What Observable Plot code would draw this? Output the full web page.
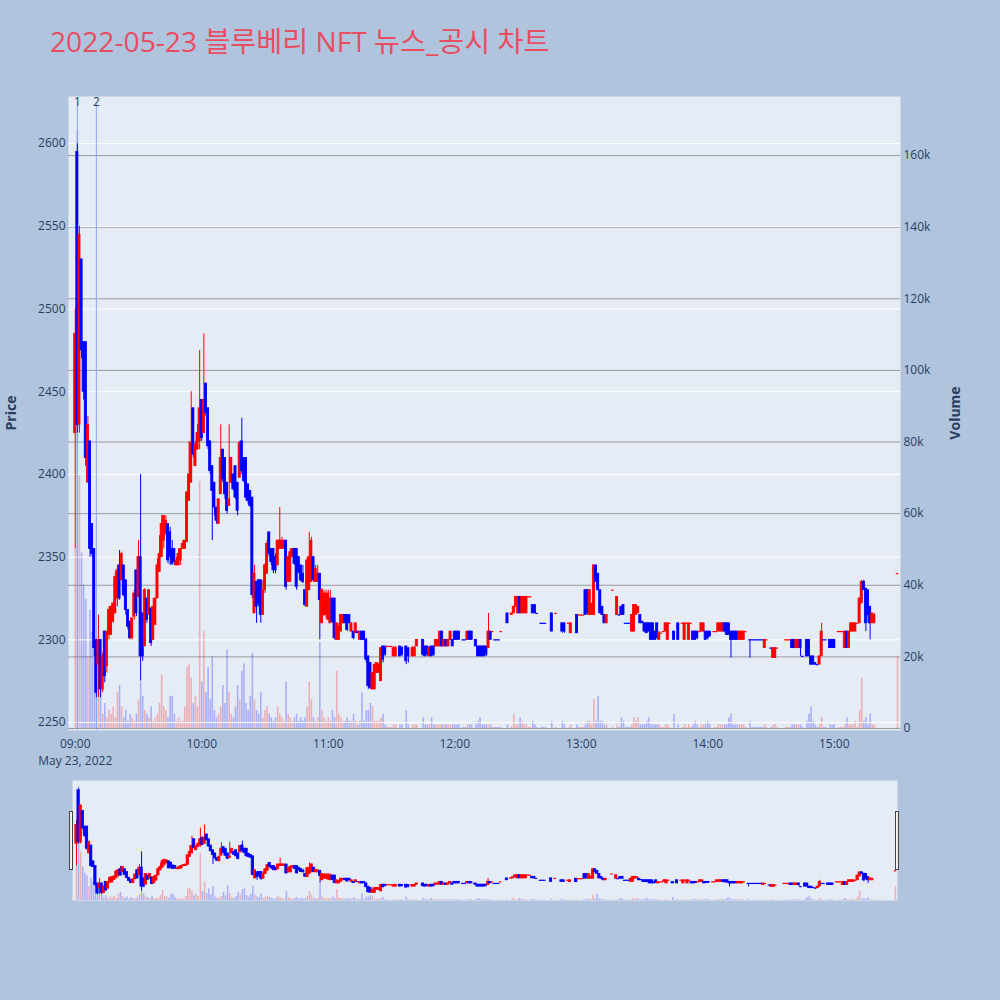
<!DOCTYPE html>
<html><head><meta charset="utf-8">
<script src="https://cdn.jsdelivr.net/npm/d3@7"></script>
<script src="https://cdn.jsdelivr.net/npm/@observablehq/plot@0.6"></script>
<style>
html,body{margin:0;padding:0;background:#b0c4de;}
#wrap{position:relative;width:1000px;height:1000px;overflow:hidden;font-family:"Open Sans","Noto Sans CJK KR",sans-serif;}
.layer{position:absolute;left:0;}
#title{position:absolute;left:50px;top:27px;font-size:28.2px;color:#e84d62;white-space:nowrap;line-height:1;font-family:"Open Sans","Noto Sans CJK KR",sans-serif;}
.ytitle{position:absolute;font-weight:bold;font-size:14px;color:#2a3f5f;transform:translate(-50%,-50%) rotate(-90deg);white-space:nowrap;}
.handle{position:absolute;width:2px;height:57px;background:#f2f2f2;border:1px solid #444;}
</style></head>
<body><div id="wrap">
<div id="title">2022-05-23 블루베리 NFT 뉴스_공시 차트</div>
<div class="ytitle" style="left:10px;top:413px;">Price</div>
<div class="ytitle" style="left:954px;top:413px;">Volume</div>
<div id="mainVol" class="layer" style="top:0"></div>
<div id="mainPrice" class="layer" style="top:0"></div>
<div id="sliderVol" class="layer" style="top:780px"></div>
<div id="sliderPrice" class="layer" style="top:780px"></div>
<div class="handle" style="left:69px;top:811px;"></div>
<div class="handle" style="left:895px;top:811px;"></div>
</div>
<script>
// minutes after 09:00
const minutes = [
0,1,2,3,4,5,6,7,8,9,
10,11,12,13,14,15,16,17,18,19,
20,21,22,23,24,25,26,27,28,29,
30,31,32,33,34,35,36,37,38,39,
40,41,42,43,44,45,46,47,48,49,
50,51,52,53,54,55,56,57,58,59,
60,61,62,63,64,65,66,67,68,69,
70,71,72,73,74,75,76,77,78,79,
80,81,82,83,84,85,86,87,88,89,
90,91,92,93,94,95,96,97,98,99,
100,101,102,103,104,105,106,107,108,109,
110,111,112,113,114,115,116,117,118,119,
120,121,122,123,124,125,126,127,128,129,
130,131,132,133,134,135,136,137,138,139,
140,141,142,143,144,145,146,147,
148,149,150,151,152,154,155,157,158,160,
161,162,165,166,167,168,169,170,171,172,
173,174,175,176,177,178,179,180,181,182,
184,185,186,187,188,190,191,192,193,194,
195,196,197,198,199,200,201,202,205,207,
208,209,210,211,212,213,214,215,216,217,
218,219,221,222,223,226,228,231,232,234,
235,238,239,240,241,242,243,244,245,246,
247,248,249,250,251,252,255,257,258,259,
260,261,262,263,264,265,266,267,268,269,
270,271,272,273,274,275,276,277,278,279,
280,281,282,284,286,288,289,290,291,292,
293,294,295,296,297,298,299,300,301,303,
304,305,306,307,308,309,310,311,312,313,
314,315,316,317,318,320,321,322,323,324,
325,326,327,328,330,331,332,333,337,338,
339,340,341,342,343,344,345,347,348,349,
350,351,352,353,354,355,356,358,359,360,
362,363,364,365,366,367,368,369,370,371,
372,373,374,375,376,377,378,379,390];
const opens = [
2425,2595,2430,2530,2480,2480,2395,2420,2370,2355,
2300,2285,2300,2270,2305,2284,2303,2303,2311,2316,
2325,2345,2336,2345,2336,2318,2311,2301,2314,2342,
2326,2350,2316,2296,2325,2315,2319,2300,2309,2325,
2341,2350,2360,2364,2370,2365,2355,2355,2345,2345,
2348,2355,2355,2359,2384,2395,2440,2405,2415,2420,
2445,2425,2455,2440,2420,2405,2395,2380,2370,2388,
2415,2410,2395,2381,2395,2400,2405,2395,2398,2420,
2410,2410,2394,2390,2386,2316,2335,2336,2336,2315,
2330,2340,2365,2355,2355,2350,2345,2355,2355,2355,
2360,2335,2335,2350,2355,2355,2350,2345,2340,2330,
2320,2330,2335,2350,2335,2335,2340,2310,2315,2315,
2312,2310,2325,2325,2300,2300,2305,2310,2315,2315,
2315,2305,2305,2304,2305,2300,2305,2305,2300,2290,
2286,2270,2270,2280,2280,2275,2296,2296,
2296,2296,2296,2290,2290,2296,2295,2296,2295,2290,
2290,2296,2300,2296,2296,2290,2296,2296,2296,2296,
2296,2305,2296,2300,2296,2300,2300,2305,2305,2305,
2300,2300,2300,2305,2305,2300,2296,2296,2296,2296,
2296,2295,2305,2305,2300,2300,2300,2305,2316,2315,
2316,2320,2316,2326,2316,2316,2316,2326,2326,2321,
2321,2316,2310,2310,2310,2316,2316,2310,2310,2310,
2304,2315,2315,2315,2315,2330,2330,2315,2315,2315,
2345,2340,2330,2320,2315,2310,2330,2315,2315,2320,
2321,2310,2310,2310,2305,2305,2315,2316,2315,2311,
2310,2310,2310,2310,2310,2305,2310,2300,2304,2305,
2305,2300,2310,2305,2310,2310,2300,2310,2300,2310,
2305,2305,2305,2305,2305,2305,2305,2305,2305,2305,
2305,2305,2305,2305,2310,2310,2310,2305,2305,2305,
2305,2300,2300,2300,2305,2300,2300,2300,2300,2300,
2300,2300,2295,2300,2295,2289,2289,2295,2300,2300,
2300,2300,2300,2295,2295,2300,2290,2300,2300,2290,
2290,2286,2285,2285,2290,2300,2300,2300,2300,2300,
2305,2305,2305,2295,2305,2295,2305,2305,2305,2310,
2310,2322,2335,2331,2330,2320,2310,2310,2340];
const highs = [
2500,2600,2550,2530,2480,2480,2435,2420,2370,2355,
2300,2315,2300,2292,2305,2305,2320,2320,2322,2341,
2345,2354,2353,2345,2336,2318,2311,2313,2330,2342,
2360,2400,2316,2331,2325,2330,2319,2325,2325,2349,
2363,2375,2375,2375,2370,2368,2360,2355,2350,2355,
2355,2360,2360,2390,2420,2450,2440,2420,2430,2475,
2445,2485,2455,2440,2420,2405,2395,2380,2385,2430,
2415,2410,2395,2430,2410,2400,2405,2395,2420,2434,
2410,2410,2394,2390,2386,2345,2335,2336,2336,2336,
2346,2360,2365,2355,2355,2352,2360,2380,2362,2360,
2360,2350,2355,2355,2355,2355,2350,2345,2345,2330,
2350,2365,2362,2350,2345,2345,2340,2331,2330,2330,
2330,2330,2325,2325,2310,2310,2315,2315,2315,2315,
2315,2310,2305,2310,2305,2305,2305,2305,2301,2290,
2286,2280,2285,2286,2286,2295,2296,2296,
2296,2296,2296,2296,2296,2296,2296,2296,2295,2296,
2296,2300,2300,2296,2296,2296,2296,2296,2300,2300,
2305,2305,2300,2300,2300,2305,2300,2305,2305,2305,
2300,2300,2305,2305,2305,2300,2296,2296,2296,2296,
2296,2316,2305,2305,2300,2300,2300,2305,2316,2316,
2320,2326,2326,2326,2326,2326,2326,2326,2326,2321,
2321,2316,2310,2310,2310,2316,2316,2310,2310,2310,
2310,2315,2315,2315,2315,2330,2330,2330,2322,2345,
2345,2340,2330,2320,2315,2315,2330,2326,2315,2320,
2321,2310,2310,2310,2315,2321,2321,2320,2315,2311,
2310,2310,2310,2310,2310,2305,2310,2305,2304,2305,
2310,2310,2310,2305,2310,2310,2310,2310,2310,2310,
2305,2305,2305,2305,2310,2310,2305,2305,2305,2305,
2305,2310,2310,2310,2310,2310,2310,2305,2305,2305,
2305,2305,2305,2305,2305,2300,2300,2300,2300,2300,
2300,2300,2300,2300,2295,2295,2295,2295,2300,2300,
2300,2300,2300,2300,2300,2300,2290,2300,2300,2290,
2290,2286,2285,2290,2310,2300,2300,2300,2300,2300,
2305,2305,2305,2305,2305,2305,2310,2310,2310,2310,
2325,2336,2336,2331,2330,2320,2316,2316,2340];
const lows = [
2355,2425,2425,2470,2445,2405,2395,2350,2350,2290,
2265,2265,2265,2268,2274,2280,2300,2303,2310,2316,
2320,2324,2336,2326,2315,2306,2300,2300,2312,2314,
2326,2275,2287,2296,2310,2315,2296,2300,2309,2325,
2341,2350,2355,2363,2346,2345,2345,2345,2345,2345,
2345,2355,2355,2359,2384,2395,2410,2405,2415,2415,
2420,2425,2435,2415,2400,2360,2375,2370,2370,2388,
2395,2385,2376,2381,2395,2390,2385,2375,2398,2400,
2395,2384,2382,2380,2325,2316,2310,2320,2310,2315,
2328,2340,2350,2345,2340,2340,2345,2355,2355,2355,
2330,2335,2335,2350,2345,2330,2340,2335,2334,2320,
2320,2330,2335,2335,2335,2335,2300,2310,2314,2313,
2312,2310,2310,2300,2300,2300,2305,2310,2310,2305,
2310,2305,2300,2304,2304,2300,2300,2300,2286,2270,
2270,2270,2270,2280,2280,2275,2286,2290,
2296,2296,2296,2290,2290,2290,2290,2285,2286,2290,
2290,2296,2290,2290,2290,2290,2290,2290,2296,2296,
2296,2296,2296,2296,2296,2300,2296,2300,2300,2300,
2300,2300,2300,2300,2300,2296,2290,2290,2290,2290,
2290,2295,2300,2305,2300,2300,2300,2305,2310,2315,
2316,2320,2316,2316,2316,2316,2316,2326,2326,2316,
2316,2316,2310,2310,2310,2305,2316,2304,2304,2310,
2304,2304,2315,2315,2315,2315,2315,2315,2315,2315,
2335,2330,2316,2315,2310,2310,2330,2315,2315,2315,
2315,2310,2310,2310,2305,2305,2315,2316,2310,2310,
2305,2304,2305,2300,2300,2300,2300,2300,2304,2305,
2305,2300,2310,2300,2300,2310,2300,2310,2300,2310,
2300,2300,2300,2305,2305,2305,2300,2300,2302,2305,
2305,2305,2305,2305,2305,2303,2303,2289,2300,2300,
2300,2300,2300,2300,2305,2289,2300,2300,2300,2300,
2300,2300,2295,2300,2295,2289,2289,2295,2300,2300,
2300,2295,2295,2295,2295,2290,2290,2290,2290,2285,
2285,2285,2285,2285,2290,2300,2300,2295,2295,2295,
2305,2305,2305,2295,2295,2295,2305,2305,2305,2310,
2310,2322,2330,2305,2310,2300,2310,2310,2340];
const closes = [
2485,2430,2545,2475,2450,2410,2430,2355,2352,2295,
2268,2300,2270,2290,2278,2305,2318,2320,2322,2338,
2342,2325,2352,2327,2318,2308,2301,2313,2328,2316,
2350,2290,2290,2330,2312,2330,2298,2320,2325,2345,
2352,2370,2375,2372,2348,2350,2346,2347,2348,2352,
2355,2358,2360,2389,2400,2419,2412,2418,2425,2440,
2422,2445,2437,2417,2402,2390,2380,2372,2385,2410,
2397,2388,2378,2385,2410,2391,2386,2378,2419,2402,
2396,2386,2384,2381,2327,2340,2320,2322,2315,2330,
2345,2358,2352,2347,2342,2342,2360,2360,2360,2360,
2332,2350,2353,2355,2346,2332,2341,2336,2335,2321,
2348,2350,2360,2336,2343,2340,2324,2330,2328,2328,
2328,2325,2311,2301,2310,2308,2315,2315,2310,2306,
2310,2310,2301,2310,2304,2305,2300,2300,2288,2272,
2271,2280,2285,2286,2285,2295,2288,2291,
2296,2296,2296,2295,2295,2290,2291,2287,2290,2295,
2295,2300,2291,2290,2291,2295,2290,2291,2300,2300,
2305,2296,2300,2296,2300,2305,2296,2300,2300,2300,
2300,2300,2305,2300,2300,2296,2290,2290,2290,2290,
2291,2305,2300,2305,2300,2300,2300,2305,2310,2316,
2320,2326,2326,2316,2326,2326,2326,2326,2326,2316,
2316,2316,2310,2310,2310,2305,2316,2305,2305,2310,
2310,2304,2315,2315,2315,2315,2316,2330,2322,2345,
2335,2330,2316,2315,2310,2315,2330,2326,2315,2315,
2315,2310,2310,2310,2315,2321,2321,2320,2310,2310,
2305,2304,2305,2300,2300,2300,2301,2304,2304,2305,
2310,2310,2310,2300,2300,2310,2310,2310,2310,2310,
2300,2300,2301,2305,2310,2310,2300,2301,2302,2305,
2305,2310,2310,2310,2305,2303,2303,2300,2300,2300,
2300,2305,2305,2305,2305,2300,2300,2300,2300,2300,
2300,2300,2300,2300,2295,2295,2295,2295,2300,2300,
2300,2295,2295,2300,2300,2295,2290,2290,2290,2285,
2285,2285,2285,2290,2305,2300,2300,2295,2295,2295,
2305,2305,2305,2305,2295,2305,2310,2310,2310,2310,
2325,2335,2330,2310,2315,2310,2316,2315,2340];
// volume in thousands of shares
const volumes = [
50,167,71,49,40,36,20,33,27,23,
18,10,12,4,7,3,5,4,6,3,
10,12,6,3,5,2,4,3,2,4,
8,13,9,5,4,3,6,2,3,4,
7,15,6,5,3,9,9,4,2,3,
2,2,6,17,18,14,7,9,6,69,
13,27,10,17,8,20,5,3,4,6,
12,7,22,10,4,3,6,12,8,16,
18,7,5,9,21,8,5,4,10,3,
5,6,4,3,2,3,6,4,3,2,
13,4,3,2,3,4,2,3,2,3,
6,13,8,3,2,3,24,5,3,2,
3,2,5,3,16,4,3,2,2,3,
2,2,4,2,1,2,10,2,5,5,
7,6,2,2,2,3,4,1,
0.5,0.3,0.3,1,1,1,1,5,1,1,
1,1,3,1,1,1,3,1,1,1,
1,1,1,1,1,1,1,1,1,1,
0.3,0.3,1,1,1,1,2,3,1,1,
1,1,1,0.3,0.3,0.3,0.3,0.3,1,0.5,
4,1,1,3,2,1,1,0.3,0.3,2,
1,0.3,0.3,0.3,0.3,2,0.3,2,1,0.3,
1,1,0.3,0.3,0.3,1,2,2,1,8,
2,9,2,2,1,1,0.3,1,0.3,3,
2,0.3,0.3,0.3,1,3,2,3,1,1,
1,2,3,1,1,1,1,1,0.3,0.3,
1,1,0.3,4,1,0.3,1,0.3,1,0.3,
1,2,1,0.3,1,1,1,2,1,0.3,
0.3,1,1,1,1,1,3,4,1,1,
1,1,1,1,0.3,2,0.3,0.3,0.3,0.3,
0.3,0.3,1,0.3,0.3,1,1,0.3,0.3,0.3,
0.3,1,1,1,1,1,0.3,2,4,6,
2,1,0.3,1,3,0.3,0.3,1,1,1,
0.3,0.3,0.3,1,3,1,1,1,2,0.3,
5,14,2,3,1,4,1,1,20];

const hourTicks = [0, 60, 120, 180, 240, 300, 360];
const hourLabels = ["09:00", "10:00", "11:00", "12:00", "13:00", "14:00", "15:00"];
const dateLabel = "May 23, 2022";
const priceTicks = [2250, 2300, 2350, 2400, 2450, 2500, 2550, 2600];
const volumeTicks = [0, 20, 40, 60, 80, 100, 120, 140, 160];
const newsMinutes = [1, 10];
const newsLabels = ["1", "2"];

// build table
const candles = minutes.map((m, i) => ({m, o: opens[i], h: highs[i], l: lows[i], c: closes[i], v: volumes[i]}));
let prevC = null, prevUp = true;
for (const d of candles) {
  let up;
  if (d.c > d.o) up = true;
  else if (d.c < d.o) up = false;
  else if (prevC === null) up = true;
  else if (d.c > prevC) up = true;
  else if (d.c < prevC) up = false;
  else up = prevUp;
  d.up = up; prevC = d.c; prevUp = up;
}
const bodies = candles.filter(d => d.o !== d.c);
const dojis = candles.filter(d => d.o === d.c);
const UP = "#ff0000", DOWN = "#0000ff";
const col = d => d.up ? UP : DOWN;
const vcol = d => d.up ? "rgba(255,0,0,0.26)" : "rgba(0,0,255,0.26)";

const FONT = '"Open Sans", "Noto Sans CJK KR", sans-serif';
const baseStyle = {background: "transparent", fontFamily: FONT, fontSize: "12px", color: "#2a3f5f", overflow: "visible"};
const xDomain = [-3.2, 391.4];
const W = 1000, H = 780, ML = 68, MR = 100, MT = 96, MB = 50;

const mainVol = Plot.plot({
  width: W, height: H, marginLeft: ML, marginRight: MR, marginTop: MT, marginBottom: MB,
  style: baseStyle,
  x: {domain: xDomain, axis: null},
  y: {domain: [-0.56, 176.5]},
  marks: [
    Plot.frame({fill: "#e5ecf6", stroke: null}),
    Plot.gridY({ticks: volumeTicks, stroke: "#9a9a9a", strokeOpacity: 1, strokeWidth: 1}),
    Plot.ruleX(candles, {x: "m", y1: 0, y2: "v", stroke: vcol, strokeWidth: 1.6}),
    Plot.axisY({anchor: "right", ticks: volumeTicks, tickFormat: d => d === 0 ? "0" : d + "k", tickSize: 0, tickPadding: 3, label: null})
  ]
});
document.getElementById("mainVol").append(mainVol);

const mainPrice = Plot.plot({
  width: W, height: H, marginLeft: ML, marginRight: MR, marginTop: MT, marginBottom: MB,
  style: baseStyle,
  x: {domain: xDomain},
  y: {domain: [2245.2, 2628.5]},
  marks: [
    Plot.gridY({ticks: priceTicks, stroke: "#ffffff", strokeOpacity: 1, strokeWidth: 1}),
    Plot.ruleX(newsMinutes, {x: d => d, y1: 2245.2, y2: 2624.5, stroke: "#86a6ea", strokeWidth: 1}),
    Plot.text(newsMinutes, {x: d => d, text: (d, i) => newsLabels[i], frameAnchor: "top", dy: 1, fill: "#2a3f5f", fontSize: 12}),
    Plot.ruleX(candles, {x: "m", y1: "l", y2: "h", stroke: col, strokeWidth: 1}),
    Plot.rect(bodies, {x1: d => d.m - 0.5, x2: d => d.m + 0.5, y1: "o", y2: "c", fill: col, stroke: col, strokeWidth: 0.8}),
    Plot.ruleY(dojis, {y: "c", x1: d => d.m - 0.6, x2: d => d.m + 0.6, stroke: col, strokeWidth: 1.2}),
    Plot.axisY({ticks: priceTicks, tickFormat: d => String(d), tickSize: 0, tickPadding: 3, label: null}),
    Plot.axisX({ticks: hourTicks, tickFormat: (d, i) => i === 0 ? hourLabels[i] + "\n" + dateLabel : hourLabels[i], tickSize: 0, tickPadding: 6, label: null, lineHeight: 1.4})
  ]
});
document.getElementById("mainPrice").append(mainPrice);

const sx = [-1.9, 391];
const sliderVol = Plot.plot({
  width: W, height: 120, marginLeft: 72, marginRight: 103, marginTop: 0, marginBottom: 0,
  style: baseStyle,
  x: {domain: sx, axis: null},
  y: {domain: [0, 176], axis: null},
  marks: [
    Plot.frame({fill: "#e5ecf6", stroke: null}),
    Plot.ruleX(candles, {x: "m", y1: 0, y2: "v", stroke: vcol, strokeWidth: 1.5})
  ]
});
document.getElementById("sliderVol").append(sliderVol);

const sliderPrice = Plot.plot({
  width: W, height: 120, marginLeft: 72, marginRight: 103, marginTop: 0, marginBottom: 0,
  style: baseStyle,
  x: {domain: sx, axis: null},
  y: {domain: [2246, 2626], axis: null},
  marks: [
    Plot.ruleX(candles, {x: "m", y1: "l", y2: "h", stroke: col, strokeWidth: 1}),
    Plot.rect(bodies, {x1: d => d.m - 0.55, x2: d => d.m + 0.55, y1: "o", y2: "c", fill: col, stroke: col, strokeWidth: 0.8}),
    Plot.ruleY(dojis, {y: "c", x1: d => d.m - 0.6, x2: d => d.m + 0.6, stroke: col, strokeWidth: 1.2})
  ]
});
document.getElementById("sliderPrice").append(sliderPrice);
</script>
</body></html>
